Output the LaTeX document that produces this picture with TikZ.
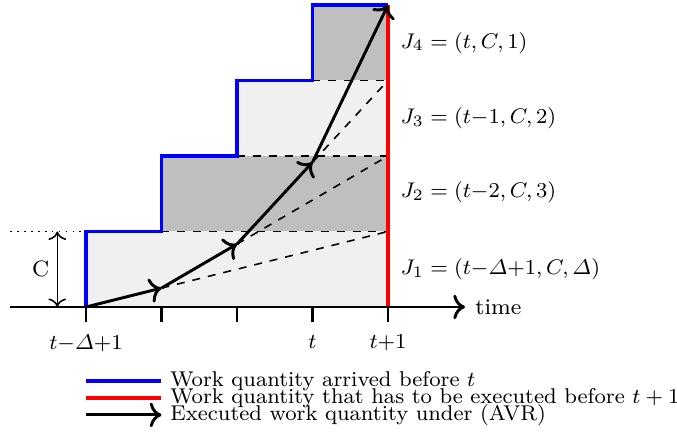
\documentclass[tikz,border=0pt]{standalone}
\usepackage{amsmath,amssymb}
\usepackage{xcolor}
\usetikzlibrary{arrows.meta, positioning, calc}

\begin{document}
\begin{tikzpicture}[
			every node/.style={font=\fontsize{8.4}{10}\selectfont},
			band/.style={fill=#1, draw=none},
			work/.style={line width=1.2pt, draw=#1},
			level/.style={dashed, line width=0.6pt},
			avr/.style={-{Computer Modern Rightarrow[scale=1.1]}, line width=1.1pt, draw=black},
			axis/.style={-{Computer Modern Rightarrow[scale=1.1]}, line width=1.1pt},
			tick/.style={line width=1.1pt},
			joblabel/.style={anchor=west, inner sep=0pt},
			legendtext/.style={anchor=west, inner sep=0pt, font=\fontsize{8.05}{10}\selectfont}
			]
			\useasboundingbox (-1.139,-1.709) rectangle (7.828,4.066);
			
			% Points of the executed work
			\coordinate (a0) at (0,0);
			\coordinate (a1) at (1,0.25);
			\coordinate (a2) at (2,0.8333);
			\coordinate (a3) at (3,1.9167);
			\coordinate (a4) at (4,4);
			
			% Job bands
			\fill[band=black!6]  (0,0) rectangle (4,1);
			\fill[band=black!25] (1,1) rectangle (4,2);
			\fill[band=black!6]  (2,2) rectangle (4,3);
			\fill[band=black!25] (3,3) rectangle (4,4);
			
			% Levels
			\draw[level] (1,1) -- (4,1);
			\draw[level] (2,2) -- (4,2);
			\draw[level] (3,3) -- (4,3);
			\draw[level] (a1) -- (4,1);
			\draw[level] (a2) -- (4,2);
			\draw[level] (a3) -- (4,3);
			\draw[dotted, line width=0.6pt] (-1,1) -- (0,1);
			
			% Arrived and required work
			\draw[work=blue] (0,0) -- (0,1) -- (1,1) -- (1,2) -- (2,2) -- (2,3)
			-- (3,3) -- (3,4) -- (4,4);
			\draw[work=red] (4,0) -- (4,4);
			
			% Time axis
			\draw[axis] (-1,0) -- (5.02,0) node[right=0pt] (time) {time};
			\draw[tick] (0,0) -- (0,-0.2) node[below=1pt] (tk0) {$t{-}\varDelta{+}1$};
			\draw[tick] (1,0) -- (1,-0.2);
			\draw[tick] (2,0) -- (2,-0.2);
			\draw[tick] (3,0) -- (3,-0.2) node[below=1pt] (tk3) {$t$};
			\draw[tick] (4,0) -- (4,-0.2) node[below=1pt] (tk4) {$t{+}1$};
			
			% Height C
			\draw[{Computer Modern Rightarrow[scale=1.1]}-{Computer Modern Rightarrow[scale=1.1]}, line width=0.6pt] (-0.38,0) -- (-0.38,1);
			\node (cap) at (-0.6,0.5) {C};
			
			% Executed work under AVR
			\draw[avr] (a0) -- (a1);
			\draw[avr] (a1) -- (a2);
			\draw[avr] (a2) -- (a3);
			\draw[avr] (a3) -- (a4);
			
			% Jobs
			\node[joblabel] (j4) at (4.16,3.5) {$J_4=(t,C,1)$};
			\node[joblabel] (j3) at (4.16,2.5) {$J_3=(t{-}1,C,2)$};
			\node[joblabel] (j2) at (4.16,1.52) {$J_2=(t{-}2,C,3)$};
			\node[joblabel] (j1) at (4.16,0.5) {$J_1=(t{-}\varDelta{+}1,C,\varDelta)$};
			
			% Legend
			\coordinate (l1a) at (0,-0.98);  \coordinate (l1b) at (1,-0.98);
			\coordinate (l2a) at (0,-1.205); \coordinate (l2b) at (1,-1.205);
			\coordinate (l3a) at (0,-1.43);  \coordinate (l3b) at (1,-1.43);
			\draw[work=blue] (l1a) -- (l1b);
			\draw[work=red]  (l2a) -- (l2b);
			\draw[avr]       (l3a) -- (l3b);
			\node[legendtext] (leg1) at (1.11,-0.98)  {Work quantity arrived before $t$};
			\node[legendtext] (leg2) at (1.11,-1.205) {Work quantity that has to be executed before $t+1$};
			\node[legendtext] (leg3) at (1.11,-1.43)  {Executed work quantity under (AVR)};
			
		\end{tikzpicture}
\end{document}
